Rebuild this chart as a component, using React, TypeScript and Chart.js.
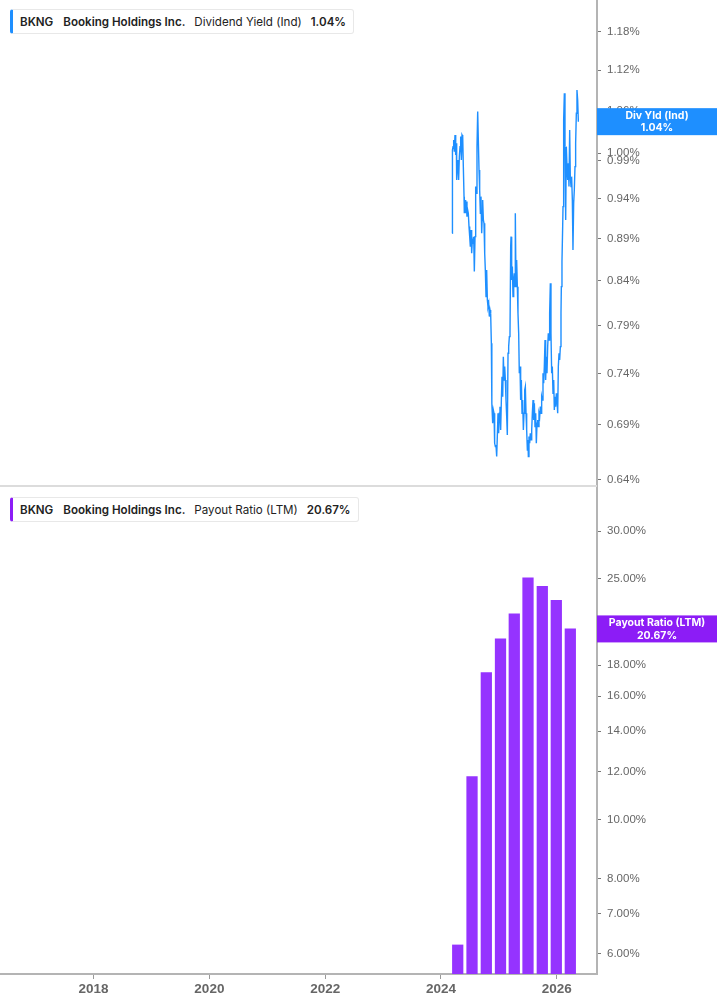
import React, { useEffect, useRef } from "react";
import { Chart, registerables } from "chart.js";

Chart.register(...registerables);

// Dividend yield (%), dates as decimal years
const yieldDates = [
  2024.195, 2024.199, 2024.209, 2024.22, 2024.232, 2024.243, 2024.255, 2024.266, 2024.272, 2024.283,
  2024.295, 2024.306, 2024.318, 2024.33, 2024.341, 2024.353, 2024.364, 2024.376, 2024.387, 2024.399,
  2024.404, 2024.416, 2024.427, 2024.439, 2024.45, 2024.462, 2024.473, 2024.485, 2024.497, 2024.508,
  2024.52, 2024.531, 2024.543, 2024.554, 2024.566, 2024.577, 2024.589, 2024.6, 2024.612, 2024.623,
  2024.635, 2024.646, 2024.658, 2024.669, 2024.681, 2024.692, 2024.704, 2024.715, 2024.721, 2024.733,
  2024.744, 2024.756, 2024.767, 2024.779, 2024.79, 2024.802, 2024.813, 2024.825, 2024.836, 2024.848,
  2024.859, 2024.871, 2024.877, 2024.882, 2024.894, 2024.905, 2024.917, 2024.928, 2024.94, 2024.951,
  2024.963, 2024.974, 2024.986, 2024.997, 2025.009, 2025.02, 2025.032, 2025.044, 2025.055, 2025.067,
  2025.078, 2025.09, 2025.101, 2025.113, 2025.124, 2025.136, 2025.147, 2025.159, 2025.17, 2025.182,
  2025.193, 2025.205, 2025.211, 2025.222, 2025.234, 2025.245, 2025.257, 2025.268, 2025.28, 2025.285,
  2025.297, 2025.308, 2025.32, 2025.331, 2025.343, 2025.354, 2025.366, 2025.377, 2025.389, 2025.401,
  2025.412, 2025.424, 2025.435, 2025.447, 2025.458, 2025.47, 2025.481, 2025.493, 2025.504, 2025.51,
  2025.521, 2025.533, 2025.544, 2025.556, 2025.568, 2025.579, 2025.591, 2025.602, 2025.614, 2025.625,
  2025.637, 2025.648, 2025.66, 2025.671, 2025.683, 2025.694, 2025.706, 2025.717, 2025.729, 2025.74,
  2025.752, 2025.763, 2025.775, 2025.786, 2025.798, 2025.809, 2025.821, 2025.832, 2025.844, 2025.855,
  2025.867, 2025.878, 2025.89, 2025.901, 2025.913, 2025.924, 2025.936, 2025.948, 2025.959, 2025.971,
  2025.982, 2025.994, 2026.005, 2026.017, 2026.028, 2026.04, 2026.051, 2026.063, 2026.074, 2026.08,
  2026.091, 2026.103, 2026.109, 2026.12, 2026.132, 2026.143, 2026.155, 2026.166, 2026.178, 2026.189,
  2026.201, 2026.212, 2026.224, 2026.235, 2026.247, 2026.258, 2026.27, 2026.281, 2026.293, 2026.304,
  2026.316, 2026.327, 2026.339, 2026.35, 2026.362, 2026.374,
];

const yieldValues = [
  0.8964, 1.0044, 1.009, 1.0182, 1.0021, 1.0252, 0.9976, 1.0136, 0.9641, 0.9818,
  0.9908, 0.9641, 0.9953, 1.009, 1.0229, 0.9908, 1.0252, 1.0229, 0.9818, 0.9424,
  0.9212, 0.9381, 0.9212, 0.936, 0.917, 0.9254, 0.9212, 0.9046, 0.8923, 0.8802,
  0.9005, 0.8722, 0.8883, 0.8842, 0.8923, 0.8507, 0.8923, 0.9554, 0.9467, 1.009,
  1.0584, 1.0182, 0.9774, 0.951, 0.9212, 0.9424, 0.8964, 0.9212, 0.9381, 0.9129,
  0.9087, 0.8722, 0.8526, 0.8221, 0.8526, 0.8184, 0.811, 0.8147, 0.8, 0.8073,
  0.8036, 0.7713, 0.7404, 0.7106, 0.6916, 0.7042, 0.701, 0.6729, 0.6699, 0.6714,
  0.6608, 0.6791, 0.701, 0.6822, 0.701, 0.7074, 0.6853, 0.7139, 0.737, 0.7171,
  0.7574, 0.7337, 0.7472, 0.7337, 0.7139, 0.6979, 0.6806, 0.7609, 0.7679, 0.7784,
  0.782, 0.8802, 0.8923, 0.841, 0.8565, 0.8221, 0.841, 0.8487, 0.8334, 0.9212,
  0.8334, 0.8643, 0.8334, 0.8036, 0.782, 0.7404, 0.7472, 0.7139, 0.7337, 0.701,
  0.7139, 0.6853, 0.701, 0.7237, 0.727, 0.701, 0.6853, 0.6668, 0.676, 0.6608,
  0.6791, 0.6729, 0.6822, 0.676, 0.6853, 0.701, 0.7139, 0.6947, 0.7106, 0.6884,
  0.701, 0.6729, 0.6916, 0.6947, 0.6884, 0.701, 0.6979, 0.7074, 0.701, 0.7171,
  0.7139, 0.7404, 0.7303, 0.7472, 0.7749, 0.7337, 0.7574, 0.7404, 0.7679, 0.782,
  0.7749, 0.8036, 0.8372, 0.782, 0.7404, 0.7472, 0.7204, 0.7337, 0.7042, 0.7171,
  0.7074, 0.7204, 0.7139, 0.701, 0.7472, 0.7609, 0.754, 0.7679, 0.8036, 0.8334,
  0.8624, 0.9046, 0.9296, 1.0464, 1.0852, 1.009, 0.9129, 1.009, 0.9818, 0.9641,
  0.9863, 0.9554, 1.0322, 0.9685, 0.9554, 0.9685, 0.9381, 0.8762, 0.9339, 0.951,
  0.9818, 1.0136, 1.056, 1.0902, 1.0754, 1.044,
];

// Payout ratio (LTM, %), quarterly bars
const payoutDates = [2024.29, 2024.537, 2024.784, 2025.029, 2025.267, 2025.504, 2025.751, 2025.993, 2026.235];
const payoutValues = [6.21, 11.79, 17.5, 19.9, 21.9, 25.1, 24.3, 23.05, 20.67];

const yearTicks = [2018, 2020, 2022, 2024, 2026];
const yieldTicks = [0.64, 0.69, 0.74, 0.79, 0.84, 0.89, 0.94, 0.99, 1.0, 1.06, 1.12, 1.18];
const payoutTicks = [6, 7, 8, 10, 12, 14, 16, 18, 20, 25, 30];

const BLUE = "#1e8fff";
const PURPLE = "#9533ff";
const AXIS_GRAY = "#b4b4b4";
const TICK_FONT = { family: "'Liberation Sans', Arial, sans-serif", size: 11.5 };

// box with the latest value on the right axis
function lastValueBox(color: string, title: string, text: string, value: number) {
  return {
    id: "lastValueBox",
    afterDraw(chart: any) {
      const { ctx, chartArea } = chart;
      const y = chart.scales.y.getPixelForValue(value);
      const left = chartArea.right;
      const w = chart.width - left;
      const h = 27;
      ctx.save();
      ctx.fillStyle = color;
      ctx.fillRect(left, y - h / 2, w, h);
      ctx.fillStyle = "#fff";
      ctx.font = "bold 10.5px Inter, sans-serif";
      ctx.textAlign = "center";
      ctx.textBaseline = "middle";
      ctx.fillText(title, left + w / 2, y - 6);
      ctx.fillText(text, left + w / 2, y + 6.5);
      ctx.restore();
    },
  };
}

const bottomRule = {
  id: "bottomRule",
  afterDraw(chart: any) {
    const { ctx, chartArea } = chart;
    ctx.save();
    ctx.strokeStyle = "#dcdcdc";
    ctx.lineWidth = 2;
    ctx.beginPath();
    ctx.moveTo(0, chartArea.bottom - 1);
    ctx.lineTo(chartArea.right, chartArea.bottom - 1);
    ctx.stroke();
    ctx.restore();
  },
};

function rightAxis(min: number, max: number, ticks: number[], fmt: (v: number) => string) {
  return {
    type: "logarithmic" as const,
    position: "right" as const,
    min,
    max,
    afterBuildTicks: (scale: any) => {
      scale.ticks = ticks.map((v) => ({ value: v }));
    },
    afterFit: (scale: any) => {
      scale.width = 120;
      scale.paddingTop = 0;
      scale.paddingBottom = 0;
    },
    border: { display: true, color: AXIS_GRAY, width: 2 },
    grid: { display: true, drawOnChartArea: false, drawTicks: true, tickLength: 4, color: "#777" },
    ticks: {
      color: "#666",
      font: TICK_FONT,
      padding: 6,
      autoSkip: false,
      callback: (v: any) => fmt(Number(v)),
    },
  };
}

const X_MIN = 2016.383;
const X_MAX = 2026.696;

function LegendTag({ top, color, metric, value }: { top: number; color: string; metric: string; value: string }) {
  return (
    <div
      style={{
        position: "absolute",
        left: 10,
        top,
        height: 23,
        display: "flex",
        alignItems: "center",
        background: "#fff",
        border: "1px solid #e8e8e8",
        borderLeft: `3px solid ${color}`,
        borderRadius: 3,
        padding: "0 7px",
        fontFamily: "Inter, sans-serif",
        fontSize: 11.6,
        color: "#222",
        whiteSpace: "nowrap",
      }}
    >
      <span style={{ fontWeight: 600 }}>BKNG</span>
      <span style={{ fontWeight: 600, marginLeft: 10 }}>Booking Holdings Inc.</span>
      <span style={{ marginLeft: 9 }}>{metric}</span>
      <span style={{ fontWeight: 600, marginLeft: 9 }}>{value}</span>
    </div>
  );
}

export default function App() {
  const yieldRef = useRef<HTMLCanvasElement | null>(null);
  const payoutRef = useRef<HTMLCanvasElement | null>(null);

  useEffect(() => {
    document.body.style.margin = "0";
    if (!yieldRef.current || !payoutRef.current) return;

    const yieldChart = new Chart(yieldRef.current, {
      type: "line",
      data: {
        datasets: [
          {
            label: "Dividend Yield (Ind)",
            data: yieldDates.map((d, i) => ({ x: d, y: yieldValues[i] })),
            borderColor: BLUE,
            borderWidth: 1.4,
            pointRadius: 0,
            tension: 0,
          },
        ],
      },
      options: {
        animation: false,
        responsive: false,
        maintainAspectRatio: false,
        plugins: { legend: { display: false }, tooltip: { enabled: false } },
        scales: {
          x: { type: "linear", min: X_MIN, max: X_MAX, display: false },
          y: rightAxis(0.6339, 1.2327, yieldTicks, (v) => v.toFixed(2) + "%"),
        },
      },
      plugins: [bottomRule, lastValueBox(BLUE, "Div Yld (Ind)", "1.04%", yieldValues[yieldValues.length - 1])],
    });

    const payoutChart = new Chart(payoutRef.current, {
      type: "bar",
      data: {
        datasets: [
          {
            label: "Payout Ratio (LTM)",
            data: payoutDates.map((d, i) => ({ x: d, y: payoutValues[i] })),
            backgroundColor: PURPLE,
            barThickness: 10.6,
          },
        ],
      },
      options: {
        animation: false,
        responsive: false,
        maintainAspectRatio: false,
        plugins: { legend: { display: false }, tooltip: { enabled: false } },
        scales: {
          x: {
            type: "linear",
            min: X_MIN,
            max: X_MAX,
            offset: false,
            afterBuildTicks: (scale: any) => {
              scale.ticks = yearTicks.map((v) => ({ value: v }));
            },
            afterFit: (scale: any) => {
              scale.height = 31;
              scale.paddingLeft = 0;
              scale.paddingRight = 0;
            },
            border: { display: true, color: AXIS_GRAY, width: 2 },
            grid: {
              display: true,
              offset: false,
              drawOnChartArea: false,
              drawTicks: true,
              tickLength: 5,
              color: "#999",
            },
            ticks: {
              color: "#666",
              padding: 2,
              autoSkip: false,
              maxRotation: 0,
              font: { family: "'Liberation Sans', Arial, sans-serif", size: 13.5, weight: "bold" },
              callback: (v: any) => String(v),
            },
          },
          y: rightAxis(5.56, 35.47, payoutTicks, (v) => v.toFixed(2) + "%"),
        },
      },
      plugins: [lastValueBox("#8c1cf6", "Payout Ratio (LTM)", "20.67%", payoutValues[payoutValues.length - 1])],
    });

    return () => {
      yieldChart.destroy();
      payoutChart.destroy();
    };
  }, []);

  return (
    <div style={{ position: "absolute", left: 0, top: 0, width: 717, height: 1005, background: "#fff" }}>
      <div style={{ position: "absolute", left: 0, top: 0, width: 717, height: 487 }}>
        <canvas ref={yieldRef} width={717} height={487} style={{ width: 717, height: 487 }} />
      </div>
      <div style={{ position: "absolute", left: 0, top: 487, width: 717, height: 518 }}>
        <canvas ref={payoutRef} width={717} height={518} style={{ width: 717, height: 518 }} />
      </div>
      <LegendTag top={9} color={BLUE} metric="Dividend Yield (Ind)" value="1.04%" />
      <LegendTag top={497} color="#8c1cf6" metric="Payout Ratio (LTM)" value="20.67%" />
    </div>
  );
}
